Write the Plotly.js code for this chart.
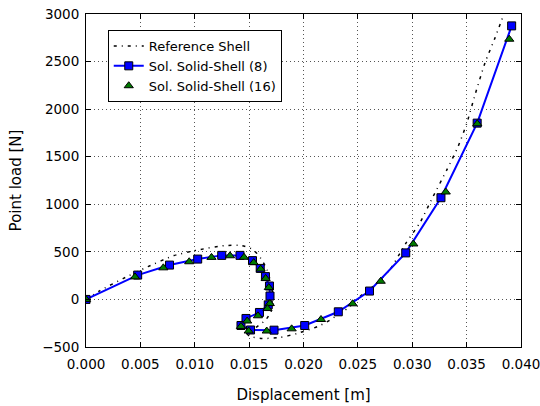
<!DOCTYPE html>
<html>
<head>
<meta charset="utf-8">
<script src="https://cdn.plot.ly/plotly-3.0.1.min.js"></script>
<style>html,body{margin:0;padding:0;background:#fff;}#chart{width:540px;height:406px;}</style>
</head>
<body>
<div id="chart"></div>
<script>
// Reference Shell
const refX = [0, 0.00129, 0.00340, 0.00570, 0.00809, 0.01048, 0.01278, 0.01434, 0.01536, 0.01609, 0.01664, 0.01701, 0.01719, 0.01710, 0.01655, 0.01563, 0.01480, 0.01508, 0.01618, 0.01784, 0.01940, 0.02133, 0.02244, 0.02409, 0.02519, 0.02639, 0.02795, 0.02942, 0.03071, 0.03191, 0.03319, 0.03421, 0.03503, 0.03577, 0.03669, 0.03761, 0.03843];
const refY = [0, 93, 219, 345, 461, 524, 566, 566, 524, 429, 314, 167, 20, -106, -211, -295, -358, -389, -410, -400, -358, -284, -216, -90, 30, 135, 314, 592, 807, 1080, 1364, 1605, 1857, 2150, 2486, 2749, 3001];
// Sol. Solid-Shell (8)
const s8X = [0, 0.00475, 0.00768, 0.01027, 0.01248, 0.01416, 0.01531, 0.01602, 0.01650, 0.01687, 0.01692, 0.01676, 0.01595, 0.01471, 0.01425, 0.01513, 0.01729, 0.02011, 0.02320, 0.02607, 0.02940, 0.03264, 0.03597, 0.03914];
const s8Y = [0, 256, 361, 424, 463, 463, 408, 326, 240, 141, 36, -57, -137, -200, -274, -321, -323, -274, -130, 88, 489, 1069, 1853, 2875];
// Sol. Solid-Shell (16)
const s16X = [0, 0.00451, 0.00711, 0.00949, 0.01154, 0.01324, 0.01453, 0.01542, 0.01606, 0.01652, 0.01681, 0.01690, 0.01669, 0.01581, 0.01482, 0.01425, 0.01496, 0.01662, 0.01891, 0.02161, 0.02452, 0.02710, 0.03010, 0.03308, 0.03598, 0.03892];
const s16Y = [0, 237, 332, 396, 442, 459, 443, 387, 319, 221, 125, -43, -96, -172, -227, -284, -332, -332, -309, -211, -46, 191, 583, 1129, 1846, 2735];

const xTicks = [0, 0.005, 0.010, 0.015, 0.020, 0.025, 0.030, 0.035, 0.040];
const yTicks = [-500, 0, 500, 1000, 1500, 2000, 2500, 3000];

const FAM = 'DejaVu Sans, sans-serif';
const tickFont = {family: FAM, size: 13.5, color: '#000'};

const traces = [
  {x: refX, y: refY, mode: 'lines', name: 'Reference Shell',
   line: {color: '#000', width: 1.5, dash: '3px,5px,1px,5px', shape: 'spline', smoothing: 0.6}},
  {x: s8X, y: s8Y, mode: 'lines+markers', name: 'Sol. Solid-Shell (8)',
   line: {color: '#0000ff', width: 2},
   marker: {symbol: 'square', size: 8, color: '#0000ff', line: {color: '#000', width: 1}}},
  {x: s16X, y: s16Y, mode: 'markers', name: 'Sol. Solid-Shell (16)',
   marker: {symbol: 'triangle-up', size: 8, color: '#007a00', line: {color: '#000', width: 1}}}
];

const axisCommon = {
  showline: true, linecolor: '#000', linewidth: 1, mirror: 'allticks',
  ticks: 'inside', ticklen: 5, tickcolor: '#000',
  showgrid: true, gridcolor: '#555', griddash: '1px,3px', gridwidth: 1,
  zeroline: false, tickfont: tickFont, ticklabeloverflow: 'allow'
};

const layout = {
  width: 540, height: 406,
  margin: {l: 86, r: 19, t: 14, b: 58.5},
  paper_bgcolor: '#fff', plot_bgcolor: '#fff',
  font: tickFont,
  showlegend: true,
  legend: {x: 0.05, y: 0.952, xanchor: 'left', yanchor: 'top',
           bgcolor: '#fff', bordercolor: '#000', borderwidth: 1,
           font: {family: FAM, size: 13, color: '#000'},
           tracegroupgap: 0, itemwidth: 30},
  xaxis: Object.assign({}, axisCommon, {
    range: [0, 0.04], tickvals: xTicks, tickformat: '.3f', ticklabelstandoff: 5,
    title: {text: 'Displacement [m]', font: {family: FAM, size: 15}, standoff: 18}
  }),
  yaxis: Object.assign({}, axisCommon, {
    range: [-500, 3000], tickvals: yTicks, ticklabelstandoff: 3,
    title: {text: 'Point load [N]', font: {family: FAM, size: 15}, standoff: 16}
  })
};

Plotly.newPlot('chart', traces, layout, {displayModeBar: false, staticPlot: true});
</script>
</body>
</html>
